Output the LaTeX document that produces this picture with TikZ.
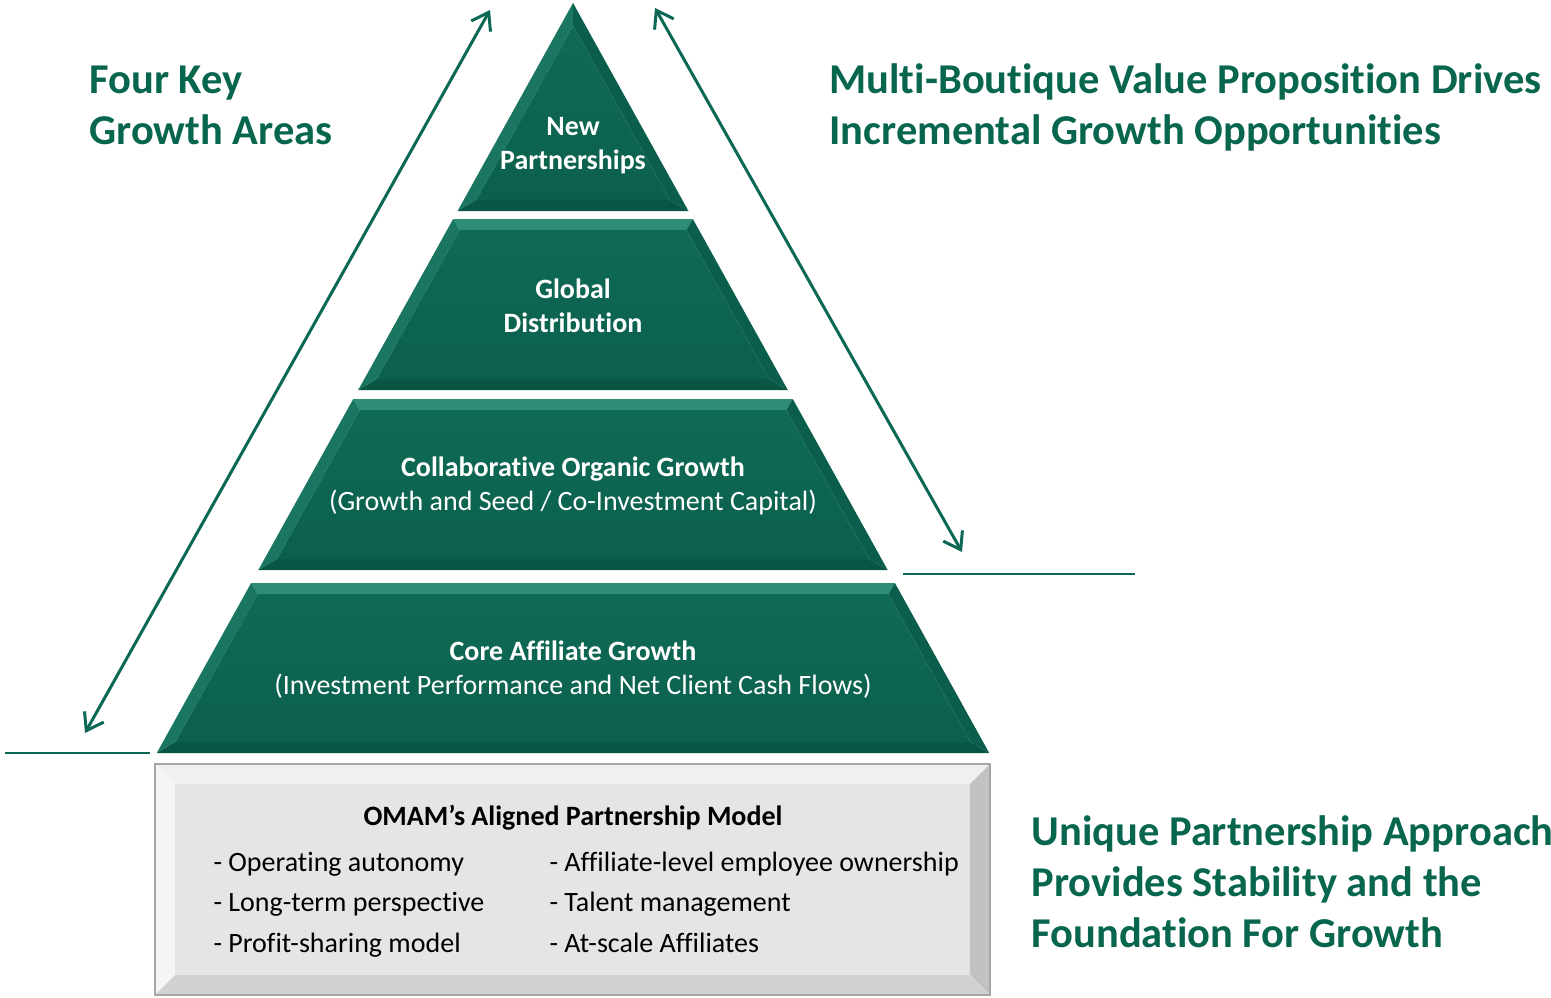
\documentclass[tikz,border=0pt]{standalone}
\usepackage{fontspec}
\setmainfont{Carlito}[Ligatures=NoCommon]
\usetikzlibrary{arrows.meta}

\definecolor{titlegreen}{RGB}{8,102,78}
\definecolor{linegreen}{RGB}{10,104,84}
\definecolor{tiermid}{RGB}{15,106,86}
\definecolor{tierlow}{RGB}{11,96,77}
\definecolor{tiertop}{RGB}{46,142,117}
\definecolor{tierleft}{RGB}{26,118,96}
\definecolor{tierright}{RGB}{12,94,76}
\definecolor{tierbot}{RGB}{9,86,69}

\tikzset{
  title/.style={anchor=base west,text=titlegreen,font=\fontsize{42.5}{51}\selectfont\bfseries,align=left},
  tiertext/.style={text=white,font=\fontsize{28}{34}\selectfont,align=center},
  listtext/.style={anchor=base west,font=\fontsize{28}{40.5}\selectfont,align=left},
  growth/.style={linegreen,line width=3pt,{Straight Barb[length=16pt,width=22pt]}-{Straight Barb[length=16pt,width=22pt]}},
  floor/.style={linegreen,line width=2pt}
}

% one band of the pyramid, from top y to bottom y
\newcommand{\band}[2]{%
  \pgfmathsetmacro\ta{0.555*(#1-3)}%
  \pgfmathsetmacro\ba{0.555*(#2-3)}%
  \pgfmathsetmacro\yi{max(#1+11,3+2.06*11)}%
  \pgfmathsetmacro\ti{max(0.555*(\yi-3)-12.6,0)}%
  \pgfmathsetmacro\yj{#2-11}%
  \pgfmathsetmacro\bi{0.555*(\yj-3)-12.6}%
  \fill[tiertop] (573-\ta,#1) -- (573+\ta,#1) -- (573+\ti,\yi) -- (573-\ti,\yi) -- cycle;
  \fill[tierleft] (573-\ta,#1) -- (573-\ti,\yi) -- (573-\bi,\yj) -- (573-\ba,#2) -- cycle;
  \fill[tierright] (573+\ta,#1) -- (573+\ti,\yi) -- (573+\bi,\yj) -- (573+\ba,#2) -- cycle;
  \fill[tierbot] (573-\ba,#2) -- (573-\bi,\yj) -- (573+\bi,\yj) -- (573+\ba,#2) -- cycle;
  \shade[top color=tiermid,bottom color=tierlow] (573-\ti,\yi) -- (573+\ti,\yi) -- (573+\bi,\yj) -- (573-\bi,\yj) -- cycle;
}

\begin{document}
\begin{tikzpicture}[x=1pt,y=-1pt]
    \useasboundingbox (0,0) rectangle (1551,998);

    %pyramid
    \band{3}{211}
    \band{219}{390}
    \band{399}{570}
    \band{583}{753}

    \node[tiertext] (partners) at (573,146) {\bfseries New\\\bfseries Partnerships};
    \node[tiertext] (global) at (573,306) {\bfseries Global\\\bfseries Distribution};
    \node[tiertext] (organic) at (573,486) {\bfseries Collaborative Organic Growth\\(Growth and Seed / Co-Investment Capital)};
    \node[tiertext] (core) at (573,670) {\bfseries Core Affiliate Growth\\(Investment Performance and Net Client Cash Flows)};

    %foundation box
    \fill[black!6] (155,764) -- (990,764) -- (970,784) -- (175,784) -- cycle;
    \fill[black!4] (155,764) -- (175,784) -- (175,975) -- (155,995) -- cycle;
    \fill[black!24] (990,764) -- (970,784) -- (970,975) -- (990,995) -- cycle;
    \fill[black!18] (155,995) -- (175,975) -- (970,975) -- (990,995) -- cycle;
    \fill[black!10] (175,784) rectangle (970,975);
    \draw[black!35,line width=1.2pt] (155,764) rectangle (990,995);

    \node[font=\fontsize{28}{30}\selectfont\bfseries] (model) at (573,818) {OMAM’s Aligned Partnership Model};
    \node[listtext] (leftlist) at (210,952) {- Operating autonomy\\- Long-term perspective\\- Profit-sharing model};
    \node[listtext] (rightlist) at (546,952) {- Affiliate-level employee ownership\\- Talent management\\- At-scale Affiliates};

    %headings
    \node[title] (fourkey) at (86,144) {Four Key\\Growth Areas};
    \node[title] (boutique) at (826,144) {Multi-Boutique Value Proposition Drives\\Incremental Growth Opportunities};
    \node[title] (unique) at (1028,947) {Unique Partnership Approach\\Provides Stability and the\\Foundation For Growth};

    %arrows
    \coordinate (lefttop) at (490,10);
    \coordinate (leftbot) at (85,733);
    \coordinate (righttop) at (655,8);
    \coordinate (rightbot) at (962,552);
    \draw[growth] (leftbot) -- (lefttop);
    \draw[growth] (righttop) -- (rightbot);

    %floor lines
    \coordinate (floorA) at (5,753);
    \coordinate (floorB) at (150,753);
    \coordinate (floorC) at (903,574);
    \coordinate (floorD) at (1135,574);
    \draw[floor] (floorA) -- (floorB);
    \draw[floor] (floorC) -- (floorD);
\end{tikzpicture}
\end{document}
